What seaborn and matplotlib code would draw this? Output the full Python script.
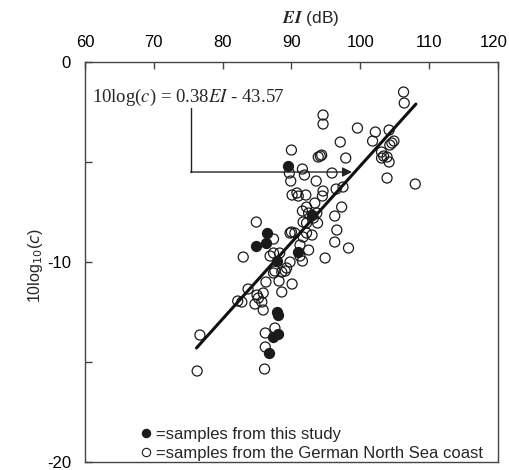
import numpy as np
import pandas as pd
import matplotlib
matplotlib.use("Agg")
import matplotlib.pyplot as plt
import matplotlib.transforms as mtrans
import seaborn as sns
from matplotlib.lines import Line2D

# samples from this study (filled)
study_ei = [89.55, 86.4, 86.3, 84.85, 91.0, 87.95, 93.0, 87.9, 88.1, 88.1, 87.3, 86.8]
study_c = [-5.2, -8.57, -9.03, -9.19, -9.49, -9.95, -7.65, -12.49, -12.65, -13.6, -13.75, -14.57]

# samples from the German North Sea coast (open)
coast_ei = [94.6, 94.6, 106.3, 106.4, 99.6, 102.2, 101.8, 104.2, 104.9, 104.6, 104.3, 97.1,
            90.0, 94.2, 94.4, 93.9, 97.9, 103.1, 103.4, 103.9, 104.2, 103.1, 103.9, 108.0,
            89.7, 89.9, 91.6, 91.9, 93.6, 95.9, 90.1, 91.0, 92.1, 90.8, 94.6, 94.5,
            96.5, 97.5, 93.4, 97.3, 96.3, 96.6, 96.3, 98.3, 94.9, 84.9, 92.5, 93.7,
            93.2, 91.7, 92.2, 93.8, 89.8, 90.5, 92.2, 93.0, 91.6, 92.2, 87.4, 90.0,
            91.25, 92.5, 91.7, 83.0, 86.9, 87.4, 88.3, 91.25, 91.6, 89.8, 89.3, 89.1,
            88.6, 87.6, 87.4, 86.3, 88.2, 90.1, 88.6, 83.7, 82.2, 82.8, 85.0, 85.2,
            85.9, 84.7, 85.7, 85.9, 76.7, 76.3, 86.2, 87.6, 86.2, 86.1]
coast_c = [-2.65, -3.1, -1.5, -2.05, -3.3, -3.5, -3.95, -3.4, -3.95, -4.05, -4.15, -4.0,
           -4.4, -4.7, -4.65, -4.75, -4.8, -4.5, -4.7, -4.75, -5.0, -4.8, -5.8, -6.1,
           -5.55, -5.95, -5.35, -5.65, -5.95, -5.55, -6.65, -6.7, -6.65, -6.55, -6.45, -6.7,
           -6.35, -6.25, -7.05, -7.25, -7.7, -8.4, -9.0, -9.3, -9.8, -8.0, -7.55, -7.55,
           -7.8, -8.0, -8.05, -8.05, -8.55, -8.55, -8.55, -8.65, -7.45, -7.25, -8.85, -8.5,
           -9.15, -9.4, -8.75, -9.75, -9.7, -9.55, -9.55, -9.7, -9.95, -10.0, -10.3, -10.45,
           -10.5, -10.45, -10.55, -11.0, -10.95, -11.1, -11.5, -11.35, -11.95, -12.0, -11.65, -11.8,
           -11.55, -12.1, -12.0, -12.4, -13.65, -15.45, -13.55, -13.3, -14.25, -15.35]

# fitted line as drawn
fit_ei = [76.2, 108.1]
fit_c = [-14.3, -2.1]

sns.set_theme(style="ticks")
plt.rcParams["font.family"] = ["Liberation Sans", "DejaVu Sans"]
plt.rcParams["axes.unicode_minus"] = False

fig = plt.figure(figsize=(5.09, 4.70), dpi=100)
ax = fig.add_axes([0.167, 0.017, 0.811, 0.851])

df_coast = pd.DataFrame({"EI": coast_ei, "c": coast_c})
df_study = pd.DataFrame({"EI": study_ei, "c": study_c})

ax.plot(fit_ei, fit_c, color="#111111", lw=2.2, zorder=3)
sns.scatterplot(data=df_coast, x="EI", y="c", ax=ax, s=52, facecolor="none",
                edgecolor="#1a1a1a", linewidth=0.9, zorder=2)
sns.scatterplot(data=df_study, x="EI", y="c", ax=ax, s=52, color="#1a1a1a",
                edgecolor="#1a1a1a", linewidth=0.9, zorder=4)

# equation annotation with bent arrow
ax.text(61.0, -1.75, r"10log($c$) = 0.38$EI$ - 43.57", fontsize=13.5,
        family="Liberation Serif", math_fontfamily="stix", va="center", ha="left")
ax.plot([75.4, 75.4], [-2.3, -5.5], color="#222222", lw=1.0, zorder=5)
ax.annotate("", xy=(98.8, -5.5), xytext=(75.35, -5.5),
            arrowprops=dict(arrowstyle="-|>", color="#222222", lw=1.0,
                            mutation_scale=14, shrinkA=0, shrinkB=0), zorder=5)

ax.set_xlim(60, 120)
ax.set_ylim(-20, 0)
ax.xaxis.tick_top()
ax.set_xticks(np.arange(60, 121, 10))
ax.set_yticks([0, -10, -20])
ax.set_yticks([-5, -15], minor=True)
ax.tick_params(axis="both", which="both", direction="in", length=5, width=1,
               color="#444444", labelsize=12, labelcolor="black")
ax.tick_params(axis="x", pad=9)
ax.tick_params(axis="y", pad=10)
for sp in ax.spines.values():
    sp.set_visible(True)
    sp.set_color("#444444")
    sp.set_linewidth(1.0)

# keep the last top label inside the figure
last = ax.get_xticklabels()[-1]
last.set_transform(last.get_transform() + mtrans.ScaledTranslation(-4 / 100, 0, fig.dpi_scale_trans))

ax.set_xlabel("")
fig.text(0.61, 1 - 19 / 470, r"$\mathbfit{EI}$ (dB)", fontsize=12.5, math_fontfamily="stix",
         ha="center", va="center")
ax.set_ylabel(r"10log$_{10}$($c$)", fontsize=11.5, math_fontfamily="dejavusans")
ax.yaxis.set_label_coords(-0.098, 0.49)

handles = [
    Line2D([], [], ls="none", marker="o", ms=6, mfc="#1a1a1a", mec="#1a1a1a", mew=0.8),
    Line2D([], [], ls="none", marker="o", ms=6, mfc="none", mec="#1a1a1a", mew=0.8),
]
ax.legend(handles, ["=samples from this study", "=samples from the German North Sea coast"],
          loc="lower left", bbox_to_anchor=(0.1, -0.022), frameon=False, fontsize=12,
          handletextpad=0.0, handlelength=1.2, labelspacing=0.25, borderaxespad=0.2)

fig.savefig("out.png", dpi=100)
